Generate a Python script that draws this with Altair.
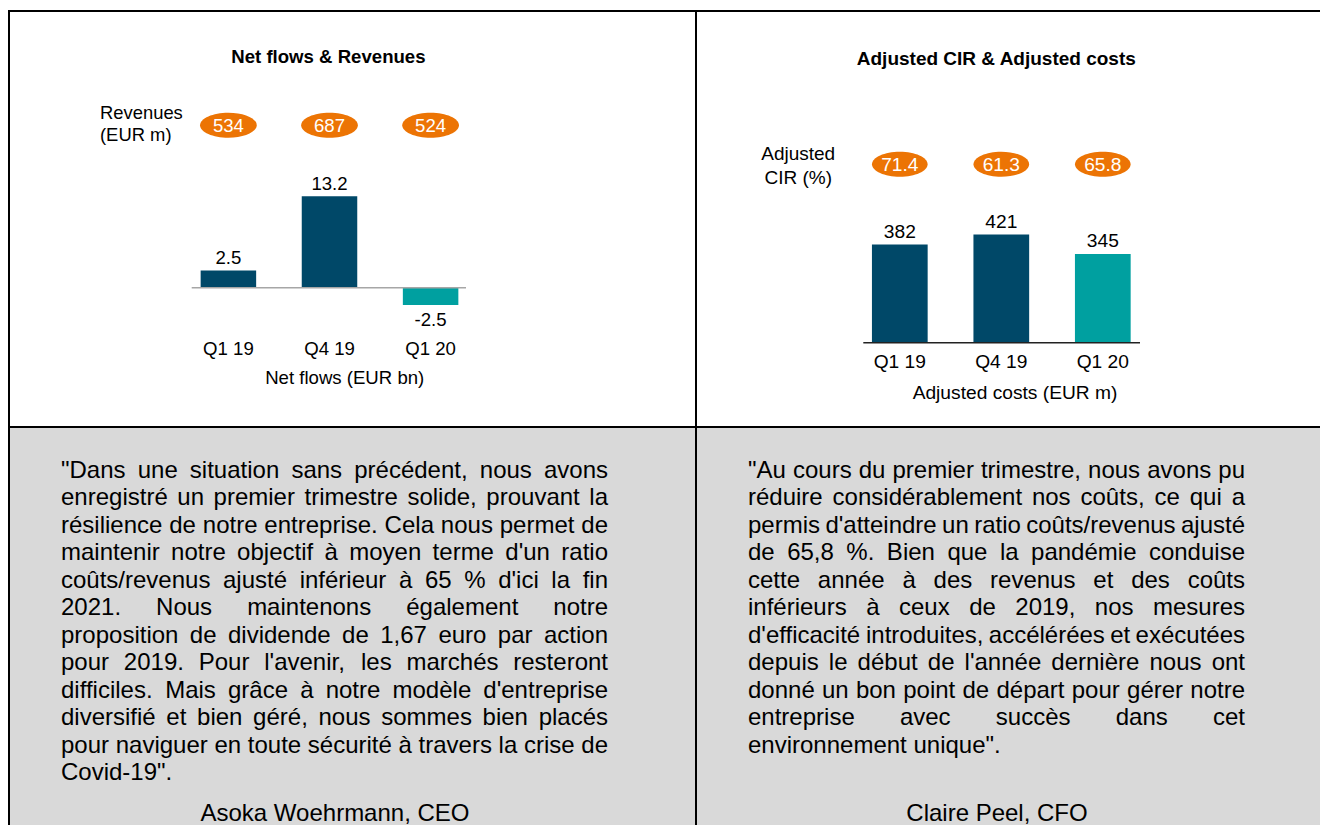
import unicodedata
import altair as alt
import pandas as pd

# ---------------- data ----------------
quarters = ["Q1 19", "Q4 19", "Q1 20"]
net_flows = [2.5, 13.2, -2.5]          # EUR bn
revenues = [534, 687, 524]             # EUR m
adj_costs = [382, 421, 345]            # EUR m
adj_cir = [71.4, 61.3, 65.8]           # %

title_left = "Net flows & Revenues"
title_right = "Adjusted CIR & Adjusted costs"
side_left = ["Revenues", "(EUR m)"]
side_right = ["Adjusted", "CIR (%)"]
xlabel_left = "Net flows (EUR bn)"
xlabel_right = "Adjusted costs (EUR m)"

quote_left = [
    "\"Dans une situation sans précédent, nous avons",
    "enregistré un premier trimestre solide, prouvant la",
    "résilience de notre entreprise. Cela nous permet de",
    "maintenir notre objectif à moyen terme d'un ratio",
    "coûts/revenus ajusté inférieur à 65 % d'ici la fin",
    "2021. Nous maintenons également notre",
    "proposition de dividende de 1,67 euro par action",
    "pour 2019. Pour l'avenir, les marchés resteront",
    "difficiles. Mais grâce à notre modèle d'entreprise",
    "diversifié et bien géré, nous sommes bien placés",
    "pour naviguer en toute sécurité à travers la crise de",
    "Covid-19\".",
]
quote_right = [
    "\"Au cours du premier trimestre, nous avons pu",
    "réduire considérablement nos coûts, ce qui a",
    "permis d'atteindre un ratio coûts/revenus ajusté",
    "de 65,8 %. Bien que la pandémie conduise",
    "cette année à des revenus et des coûts",
    "inférieurs à ceux de 2019, nos mesures",
    "d'efficacité introduites, accélérées et exécutées",
    "depuis le début de l'année dernière nous ont",
    "donné un bon point de départ pour gérer notre",
    "entreprise avec succès dans cet",
    "environnement unique\".",
]
sign_left = "Asoka Woehrmann, CEO"
sign_right = "Claire Peel, CFO"

# ---------------- style ----------------
W, H = 1312, 817
DARK = "#004868"
TEAL = "#00a0a0"
ORANGE = "#ec7404"
GREY_BG = "#d9d9d9"
FONT = "Liberation Sans"

color_scale = alt.Scale(domain=quarters, range=[DARK, DARK, TEAL])
one = pd.DataFrame({"k": [0]})


def ellipse_path(ry, k=0.5523):
    return (f"M1,0 C1,{k*ry:.4f} {k:.4f},{ry:.4f} 0,{ry:.4f} "
            f"C{-k:.4f},{ry:.4f} -1,{k*ry:.4f} -1,0 "
            f"C-1,{-k*ry:.4f} {-k:.4f},{-ry:.4f} 0,{-ry:.4f} "
            f"C{k:.4f},{-ry:.4f} 1,{-k*ry:.4f} 1,0 Z")


def label(text, x, y, size, weight="normal", align="center", color="black"):
    return alt.Chart(one).mark_text(
        text=text, fontSize=size, fontWeight=weight, align=align,
        baseline="alphabetic", font=FONT, color=color,
    ).encode(x=alt.value(x), y=alt.value(y))


def hrule(y, x0, x1, color="black", sw=2):
    return alt.Chart(one).mark_rule(color=color, strokeWidth=sw).encode(
        x=alt.value(x0), x2=alt.value(x1), y=alt.value(y))


def vrule(x, y0, y1, color="black", sw=2):
    return alt.Chart(one).mark_rule(color=color, strokeWidth=sw).encode(
        x=alt.value(x), y=alt.value(y0), y2=alt.value(y1))


def panel(df, xs, ys, fs, pill_y, pill_w, pill_h, pill_txt_y, cat_y,
          ax0, ax1, ax_color, neg_dy):
    base = alt.Chart(df)
    X = alt.X("q:N", scale=xs, axis=None)
    Y = alt.Y("v:Q", scale=ys, axis=None)
    bars = base.mark_bar().encode(
        x=X, y=Y, y2=alt.Y2(datum=0),
        color=alt.Color("q:N", scale=color_scale, legend=None))
    axis_line = alt.Chart(one).mark_rule(color=ax_color, strokeWidth=1.5).encode(
        x=alt.value(ax0), x2=alt.value(ax1),
        y=alt.Y(datum=0, scale=ys, axis=None))
    pos = base.transform_filter("datum.v >= 0").mark_text(
        dy=-6.7, fontSize=fs, font=FONT, baseline="alphabetic", color="black"
    ).encode(x=X, y=Y, text="lab:N")
    neg = base.transform_filter("datum.v < 0").mark_text(
        dy=neg_dy, fontSize=fs, font=FONT, baseline="alphabetic", color="black"
    ).encode(x=X, y=Y, text="lab:N")
    pills = base.mark_point(
        shape=ellipse_path(pill_h / pill_w), filled=True, opacity=1,
        color=ORANGE, size=pill_w ** 2, strokeWidth=0,
    ).encode(x=X, y=alt.value(pill_y))
    pill_txt = base.mark_text(
        color="white", fontSize=fs, font=FONT, baseline="alphabetic"
    ).encode(x=X, y=alt.value(pill_txt_y), text="pill:N")
    cats = base.mark_text(
        fontSize=fs, font=FONT, baseline="alphabetic", color="black"
    ).encode(x=X, y=alt.value(cat_y), text="q:N")
    return [bars, axis_line, pos, neg, pills, pill_txt, cats]


# ---------------- justified text layout ----------------
CW = {" ": 278, "!": 278, '"': 355, "%": 889, "&": 667, "'": 191, "(": 333,
      ")": 333, ",": 278, "-": 333, ".": 278, "/": 278, ":": 278, ";": 278}
CW.update({d: 556 for d in "0123456789"})
CW.update(dict(zip("ABCDEFGHIJKLMNOPQRSTUVWXYZ",
                   [667, 667, 722, 722, 667, 611, 778, 722, 278, 500, 667, 556, 833,
                    722, 778, 667, 778, 722, 667, 611, 722, 667, 944, 667, 667, 611])))
CW.update(dict(zip("abcdefghijklmnopqrstuvwxyz",
                   [556, 556, 500, 556, 556, 278, 556, 556, 222, 222, 500, 222, 833,
                    556, 556, 556, 556, 333, 500, 278, 556, 500, 722, 500, 500, 500])))


def text_width(s, fs):
    tot = 0
    for ch in s:
        b = unicodedata.normalize("NFD", ch)[0]
        tot += CW.get(b, 556)
    return tot * fs / 1000.0


def justify(lines, x0, x1, y0, dy, fs):
    rows = []
    for i, line in enumerate(lines):
        y = y0 + i * dy
        words = line.split(" ")
        if i == len(lines) - 1 or len(words) == 1:
            rows.append({"w": line, "x": x0, "y": y, "a": "left"})
            continue
        widths = [text_width(w, fs) for w in words]
        gap = (x1 - x0 - sum(widths)) / (len(words) - 1)
        x = x0
        for j, (w, wd) in enumerate(zip(words, widths)):
            if j == len(words) - 1:
                rows.append({"w": w, "x": x1, "y": y, "a": "right"})
            else:
                rows.append({"w": w, "x": x, "y": y, "a": "left"})
            x += wd + gap
    return pd.DataFrame(rows)


def quote_layers(lines, x0, x1, y0, dy, fs):
    df = justify(lines, x0, x1, y0, dy, fs)
    out = []
    for a in ["left", "right"]:
        out.append(alt.Chart(df).transform_filter(f"datum.a == '{a}'").mark_text(
            align=a, baseline="alphabetic", fontSize=fs, font=FONT, color="black"
        ).encode(x=alt.X("x:Q", scale=None, axis=None),
                 y=alt.Y("y:Q", scale=None, axis=None), text="w:N"))
    return out


# ---------------- build ----------------
df1 = pd.DataFrame({"q": quarters, "v": net_flows,
                    "lab": [f"{v:g}" for v in net_flows],
                    "pill": [str(r) for r in revenues]})
df2 = pd.DataFrame({"q": quarters, "v": adj_costs,
                    "lab": [str(v) for v in adj_costs],
                    "pill": [f"{c:.1f}" for c in adj_cir]})

xs1 = alt.Scale(domain=quarters, range=[169.85, 473.15], paddingInner=0.451, paddingOuter=0.2255)
ys1 = alt.Scale(domain=[0, 13.2], range=[279.7, 188.3], nice=False, zero=False)
xs2 = alt.Scale(domain=quarters, range=[841.05, 1145.55], paddingInner=0.451, paddingOuter=0.2255)
ys2 = alt.Scale(domain=[0, 421], range=[334.7, 226.4], nice=False, zero=False)

bg = alt.Chart(one).mark_rect(color=GREY_BG).encode(
    x=alt.value(2), x2=alt.value(W), y=alt.value(420), y2=alt.value(H))

layers = [bg,
          hrule(3, 0, W), hrule(419, 0, W),
          vrule(1, 2, H), vrule(688, 2, H)]

# left chart
layers += [label(title_left, 320.4, 54.7, 18.6, weight="bold"),
           label(side_left[0], 92, 111.3, 18.4, align="left"),
           label(side_left[1], 92, 132.7, 18.4, align="left"),
           label(xlabel_left, 336.7, 375.5, 18.6)]
layers += panel(df1, xs1, ys1, 18.6, 117.2, 56.7, 25, 123.7, 346.5,
                183.7, 458, "#a6a6a6", 21.4)

# right chart
layers += [label(title_right, 988.3, 57, 19.0, weight="bold"),
           label(side_right[0], 790.2, 152, 19.0),
           label(side_right[1], 790.2, 176, 19.0),
           label(xlabel_right, 1007, 390.5, 19.2)]
layers += panel(df2, xs2, ys2, 19.2, 156.2, 55.6, 25, 162.7, 360.3,
                855.3, 1132, "#222222", 21.4)

# quotes
layers += quote_layers(quote_left, 53, 600, 469.6, 27.5, 24)
layers += quote_layers(quote_right, 740, 1237, 469.6, 27.5, 24)
layers += [label(sign_left, 327, 813, 24), label(sign_right, 989, 813, 24)]

chart = alt.layer(*layers).resolve_scale(
    x="independent", y="independent"
).properties(
    width=W, height=H, padding=0, autosize="none"
).configure_view(stroke=None)

chart.save("out.html", embed_options={"renderer": "svg", "actions": False})
